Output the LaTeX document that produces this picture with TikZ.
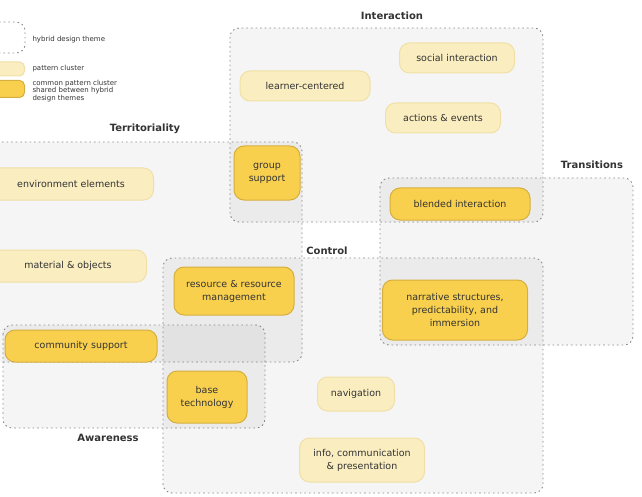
\documentclass[tikz,border=0pt]{standalone}
\usepackage{fontspec}
\setmainfont{DejaVu Sans}
\usepackage{tikz}
\usetikzlibrary{positioning}
\definecolor{theme}{HTML}{8C8C8C}
\definecolor{pale}{HTML}{FAEDC0}
\definecolor{paleline}{HTML}{F0DFA6}
\definecolor{strong}{HTML}{F9D04E}
\definecolor{strongline}{HTML}{D4AE3E}
\definecolor{ink}{HTML}{333333}

\begin{document}
\begin{tikzpicture}[x=1pt,y=-1pt,
  themebox/.style={draw=theme,line width=0.9pt,dash pattern=on 1.6pt off 3pt,
    rounded corners=9pt,fill=black,fill opacity=0.04},
  themelabel/.style={font=\fontsize{10}{12}\selectfont\bfseries,text=ink},
  cluster/.style={rounded corners=10pt,align=center,inner sep=2pt,
    font=\fontsize{9.5}{13}\selectfont,text=ink,line width=1pt},
  palebox/.style={cluster,fill=pale,draw=paleline},
  strongbox/.style={cluster,fill=strong,draw=strongline},
  legendtext/.style={font=\fontsize{7}{7.4}\selectfont,text=ink,anchor=west,align=left}]
  \useasboundingbox (0,0) rectangle (642,497);
  \clip (0,0) rectangle (642,497);

  % hybrid design themes
  \draw[themebox] (230,28) rectangle (543,222);
  \draw[themebox] (-20,142) rectangle (302,362);
  \draw[themebox] (3,325) rectangle (265,428);
  \draw[themebox] (163,258) rectangle (543,493);
  \draw[themebox] (380,178) rectangle (633,345);

  \node[themelabel] (interaction) at (392,16) {Interaction};
  \node[themelabel] (territoriality) at (145,129) {Territoriality};
  \node[themelabel] (awareness) at (108,438) {Awareness};
  \node[themelabel] (control) at (327,251) {Control};
  \node[themelabel] (transitions) at (592,165) {Transitions};

  % legend
  \draw[themebox,fill=none] (-20,22) rectangle (25,53);
  \node[legendtext] (lgtheme) at (29,40) {hybrid design theme};
  \node[palebox,rounded corners=5pt,minimum width=45pt,minimum height=14pt] (lgpale) at (2,69) {};
  \node[legendtext] (lgpaletext) at (29,69) {pattern cluster};
  \node[strongbox,rounded corners=5pt,minimum width=45pt,minimum height=17pt] (lgstrong) at (2,89) {};
  \node[legendtext] (lgstrongtext) at (29,91) {common pattern cluster\\shared between hybrid\\design themes};

  % pattern clusters
  \node[palebox,minimum width=130pt,minimum height=30pt] (learner) at (305,86) {learner-centered};
  \node[palebox,minimum width=115pt,minimum height=30pt] (social) at (457,58) {social interaction};
  \node[palebox,minimum width=115pt,minimum height=30pt] (actions) at (443,118) {actions \& events};
  \node[strongbox,minimum width=66pt,minimum height=54pt] (group) at (267,173) {group\\support};
  \node[strongbox,minimum width=140pt,minimum height=32pt] (blended) at (460,204) {blended interaction};
  \node[palebox,minimum width=165pt,minimum height=32pt] (environment) at (71,184) {environment elements};
  \node[palebox,minimum width=157pt,minimum height=32pt] (material) at (68,266) {material \& objects};
  \node[strongbox,minimum width=120pt,minimum height=48pt] (resource) at (234,291) {resource \& resource\\management};
  \node[strongbox,minimum width=145pt,minimum height=60pt] (narrative) at (455,310) {narrative structures,\\predictability, and\\immersion};
  \node[strongbox,minimum width=152pt,minimum height=32pt] (community) at (81,346) {community support};
  \node[strongbox,minimum width=80pt,minimum height=52pt] (base) at (207,397) {base\\technology};
  \node[palebox,minimum width=77pt,minimum height=34pt] (navigation) at (356,394) {navigation};
  \node[palebox,minimum width=125pt,minimum height=44pt] (info) at (362,460) {info, communication\\\& presentation};
\end{tikzpicture}
\end{document}
